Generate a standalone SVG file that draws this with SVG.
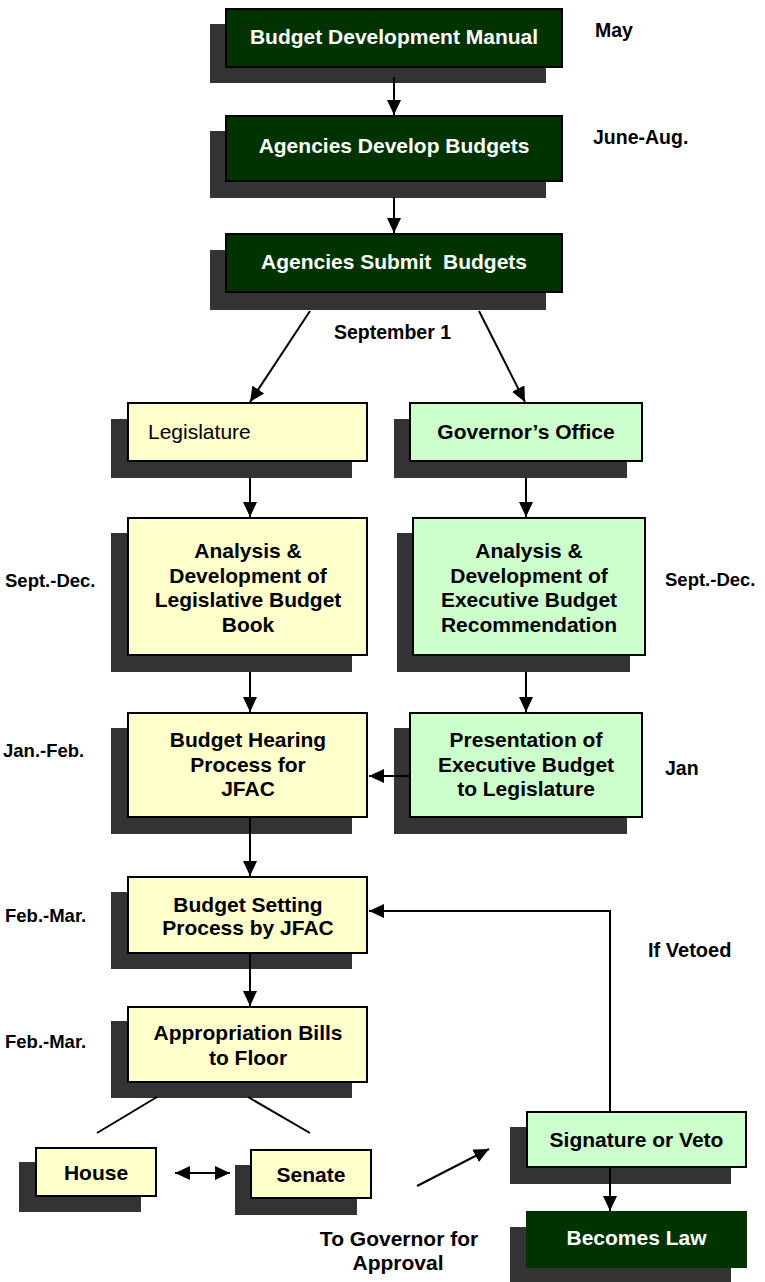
<svg xmlns="http://www.w3.org/2000/svg" width="765" height="1282" viewBox="0 0 765 1282">
<style>
.sh{fill:#333333}
.dk{fill:#003300;stroke:#000;stroke-width:2}
.yl{fill:#FFFFCC;stroke:#000;stroke-width:2}
.gr{fill:#CCFFCC;stroke:#000;stroke-width:2}
text{font-family:"Liberation Sans",Arial,sans-serif;font-weight:bold;font-size:21px;fill:#000}
.w{fill:#fff}
.c{text-anchor:middle}
.lb{font-size:19.5px}
.sd{font-size:18.5px}
.reg{font-weight:normal}
.cn{stroke:#000;stroke-width:2;fill:none}
</style>
<defs>
<marker id="ah" markerUnits="userSpaceOnUse" markerWidth="15" markerHeight="14" refX="15" refY="7" orient="auto-start-reverse" viewBox="0 0 15 14">
<path d="M0,0 L15,7 L0,14 z" fill="#000"/>
</marker>
</defs>
<g id="n1"><rect class="sh" x="210" y="24" width="336" height="59"/><rect class="dk" x="226" y="9" width="336" height="58"/><text class="w c" x="394" y="44">Budget Development Manual</text></g>
<g id="n2"><rect class="sh" x="210" y="131" width="336" height="67"/><rect class="dk" x="226" y="116" width="336" height="65"/><text class="w c" x="394" y="153">Agencies Develop Budgets</text></g>
<g id="n3"><rect class="sh" x="210" y="250" width="336" height="60"/><rect class="dk" x="226" y="234" width="336" height="58"/><text class="w c" x="394" y="269" xml:space="preserve">Agencies Submit  Budgets</text></g>
<g id="n4"><rect class="sh" x="111" y="419" width="241" height="59"/><rect class="yl" x="128" y="403" width="239" height="58"/><text class="reg" x="148" y="439">Legislature</text></g>
<g id="n5"><rect class="sh" x="394" y="419" width="233" height="59"/><rect class="gr" x="410" y="403" width="232" height="58"/><text class="c" x="526" y="439">Governor’s Office</text></g>
<g id="n6"><rect class="sh" x="111" y="533" width="241" height="139"/><rect class="yl" x="128" y="518" width="239" height="137"/><text class="c" x="248" y="558">Analysis &amp;</text><text class="c" x="248" y="582.5">Development of</text><text class="c" x="248" y="607">Legislative Budget</text><text class="c" x="248" y="631.5">Book</text></g>
<g id="n7"><rect class="sh" x="397" y="533" width="233" height="139"/><rect class="gr" x="413" y="518" width="232" height="137"/><text class="c" x="529" y="558">Analysis &amp;</text><text class="c" x="529" y="582.5">Development of</text><text class="c" x="529" y="607">Executive Budget</text><text class="c" x="529" y="631.5">Recommendation</text></g>
<g id="n8"><rect class="sh" x="111" y="728" width="241" height="106"/><rect class="yl" x="128" y="713" width="239" height="104"/><text class="c" x="248" y="747">Budget Hearing</text><text class="c" x="248" y="771.5">Process for</text><text class="c" x="248" y="796">JFAC</text></g>
<g id="n9"><rect class="sh" x="394" y="728" width="233" height="106"/><rect class="gr" x="410" y="713" width="232" height="104"/><text class="c" x="526" y="747">Presentation of</text><text class="c" x="526" y="771.5">Executive Budget</text><text class="c" x="526" y="796">to Legislature</text></g>
<g id="n10"><rect class="sh" x="111" y="892" width="241" height="77"/><rect class="yl" x="128" y="877" width="239" height="76"/><text class="c" x="248" y="911.5">Budget Setting</text><text class="c" x="248" y="935">Process by JFAC</text></g>
<g id="n11"><rect class="sh" x="111" y="1021" width="241" height="77"/><rect class="yl" x="128" y="1007" width="239" height="75"/><text class="c" x="248" y="1040">Appropriation Bills</text><text class="c" x="248" y="1065">to Floor</text></g>
<g id="n12"><rect class="sh" x="19" y="1162" width="122" height="50"/><rect class="yl" x="36" y="1148" width="120" height="48"/><text class="c" x="96" y="1179.5">House</text></g>
<g id="n13"><rect class="sh" x="235" y="1165" width="122" height="50"/><rect class="yl" x="251" y="1150" width="120" height="48"/><text class="c" x="311" y="1181.5">Senate</text></g>
<g id="n14"><rect class="sh" x="510" y="1127" width="221" height="57"/><rect class="gr" x="527" y="1112" width="219" height="55"/><text class="c" x="636.5" y="1146.5">Signature or Veto</text></g>
<g id="n15"><rect class="sh" x="510" y="1227" width="221" height="55"/><rect fill="#003300" x="526" y="1211" width="221" height="57"/><text class="w c" x="636.5" y="1245">Becomes Law</text></g>
<g id="connectors">
<line class="cn" x1="394" y1="77" x2="394" y2="115" marker-end="url(#ah)"/>
<line class="cn" x1="394" y1="197" x2="394" y2="233" marker-end="url(#ah)"/>
<line class="cn" x1="310" y1="311" x2="250" y2="402" marker-end="url(#ah)"/>
<line class="cn" x1="479" y1="311" x2="525" y2="402" marker-end="url(#ah)"/>
<line class="cn" x1="250" y1="478" x2="250" y2="517" marker-end="url(#ah)"/>
<line class="cn" x1="526" y1="478" x2="526" y2="517" marker-end="url(#ah)"/>
<line class="cn" x1="250" y1="672" x2="250" y2="712" marker-end="url(#ah)"/>
<line class="cn" x1="526" y1="672" x2="526" y2="712" marker-end="url(#ah)"/>
<line class="cn" x1="409" y1="776" x2="369" y2="776" marker-end="url(#ah)"/>
<line class="cn" x1="250" y1="818" x2="250" y2="876" marker-end="url(#ah)"/>
<line class="cn" x1="250" y1="953" x2="250" y2="1006" marker-end="url(#ah)"/>
<polyline class="cn" points="610,1111 610,911 369,911" marker-end="url(#ah)"/>
<line class="cn" x1="157" y1="1097" x2="97" y2="1133"/>
<line class="cn" x1="248" y1="1097" x2="310" y2="1133"/>
<line class="cn" x1="175" y1="1173" x2="230" y2="1173" marker-start="url(#ah)" marker-end="url(#ah)"/>
<line class="cn" x1="417" y1="1186" x2="489" y2="1149" marker-end="url(#ah)"/>
<line class="cn" x1="610" y1="1168" x2="610" y2="1211" marker-end="url(#ah)"/>
</g>
<g id="labels">
<text class="lb" x="595" y="37">May</text>
<text class="lb" x="593" y="144">June-Aug.</text>
<text class="lb" x="334" y="339">September 1</text>
<text class="sd" x="5" y="587">Sept.-Dec.</text>
<text class="sd" x="665" y="586">Sept.-Dec.</text>
<text class="sd" x="3" y="757">Jan.-Feb.</text>
<text class="lb" x="665" y="775">Jan</text>
<text class="sd" x="5" y="922">Feb.-Mar.</text>
<text class="sd" x="5" y="1048">Feb.-Mar.</text>
<text x="648" y="957" style="font-size:20px">If Vetoed</text>
<text class="c" x="399" y="1246">To Governor for</text>
<text class="c" x="398" y="1270">Approval</text>
</g>
</svg>
